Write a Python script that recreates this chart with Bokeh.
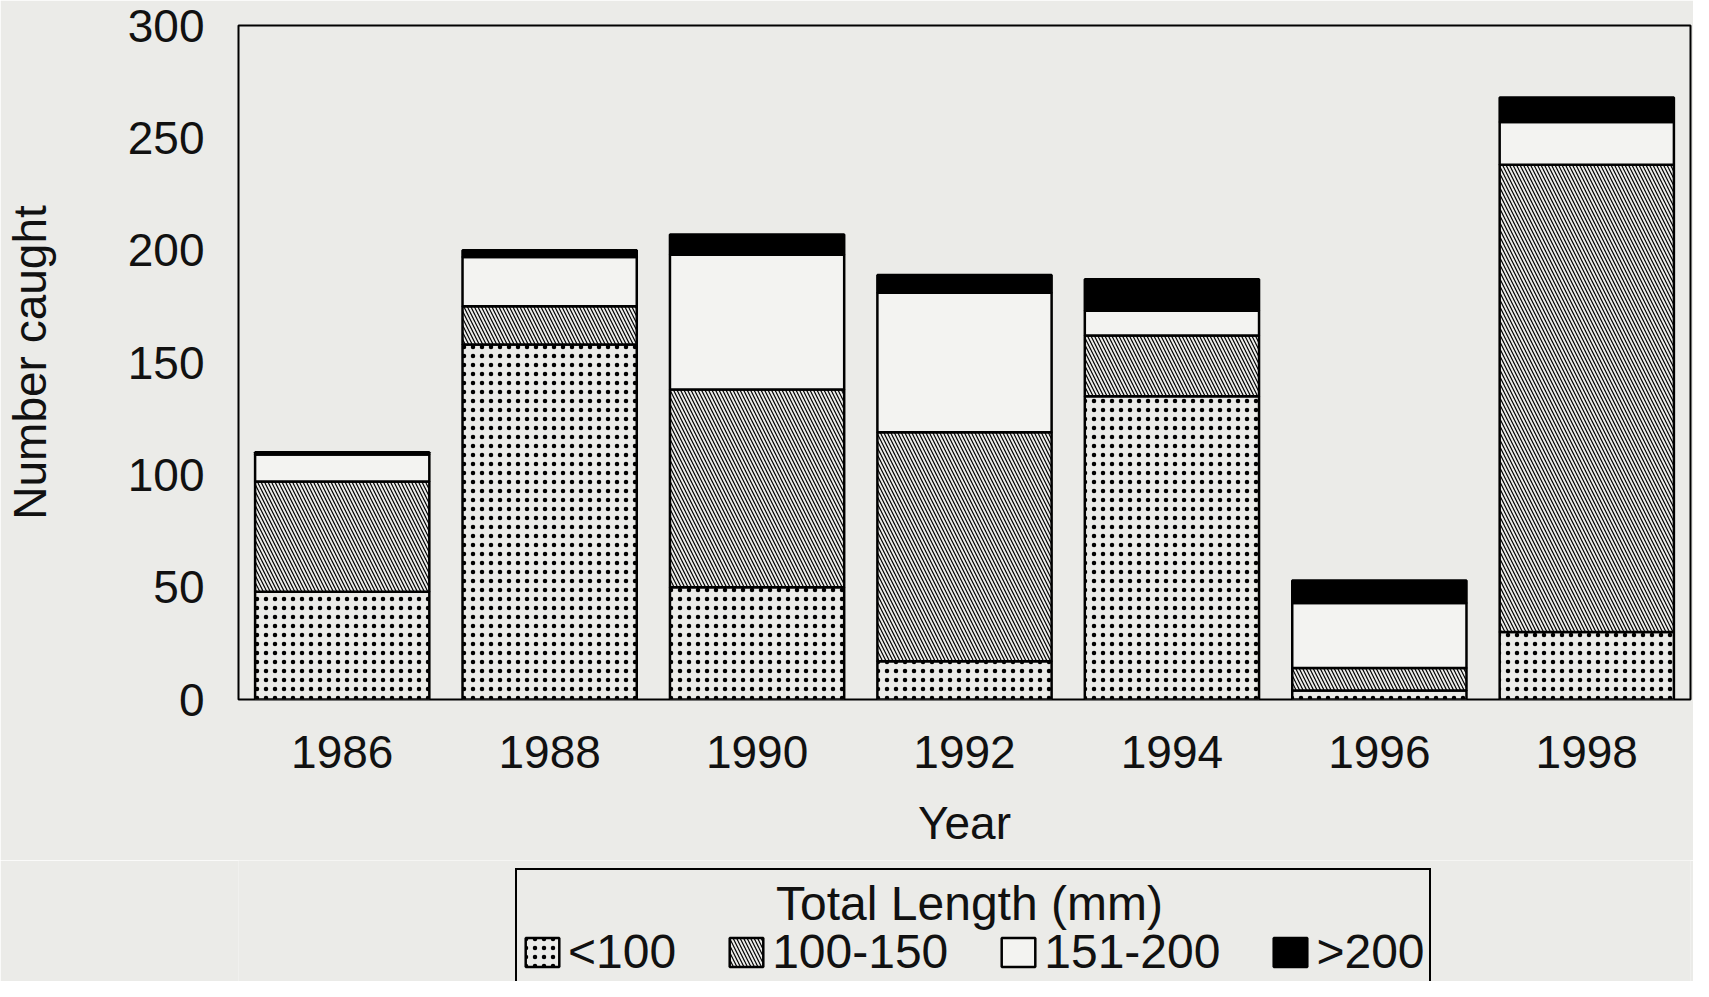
from bokeh.plotting import figure
from bokeh.layouts import column
from bokeh.models import FactorRange, Range1d, FixedTicker, Legend, LegendItem, Label
from bokeh.embed import file_html
from bokeh.resources import INLINE

years = ["1986", "1988", "1990", "1992", "1994", "1996", "1998"]
lt100 = [48, 158, 50, 17, 135, 4, 30]
l100_150 = [49, 17, 88, 102, 27, 10, 208]
l151_200 = [12, 22, 60, 62, 11, 29, 19]
gt200 = [1, 3, 9, 8, 14, 10, 11]
series_labels = ["<100", "100-150", "151-200", ">200"]
legend_title = "Total Length (mm)"
y_ticks = [0, 50, 100, 150, 200, 250, 300]

BG = "#ebebe8"
FONT = "Liberation Sans"
fills = [BG, BG, "#f3f3f1", "black"]
hatches = ["dot", "left_diagonal_line", " ", " "]
hscales = [9, 7, 8, 8]
hweights = [3, 1.2, 1, 1]

data = {"year": years, "a": lt100, "b": l100_150, "c": l151_200, "d": gt200}
stack_kw = dict(x="year", width=0.84, source=data, fill_color=fills, hatch_pattern=hatches,
                hatch_color="black", hatch_scale=hscales, hatch_weight=hweights,
                line_color="black", line_width=2.5)

p = figure(x_range=FactorRange(*years), y_range=Range1d(0, 300),
           width=1693, height=860, output_backend="svg", toolbar_location=None,
           min_border_left=231, min_border_right=3, min_border_top=25, min_border_bottom=161,
           background_fill_color=BG, border_fill_color=BG)

rs = p.vbar_stack(["a", "b", "c", "d"], **stack_kw)

p.xgrid.visible = False
p.ygrid.visible = False
p.outline_line_color = "black"
p.outline_line_width = 2

for ax in (p.xaxis[0], p.yaxis[0]):
    ax.axis_line_color = None
    ax.major_tick_line_color = None
    ax.minor_tick_line_color = None
    ax.major_label_text_font = FONT
    ax.major_label_text_font_size = "46px"
    ax.major_label_text_color = "#111111"
    ax.axis_label_text_font = FONT
    ax.axis_label_text_font_size = "46px"
    ax.axis_label_text_font_style = "normal"
    ax.axis_label_text_color = "#111111"

p.xaxis.axis_label = "Year"
p.xaxis.major_label_standoff = 30
p.xaxis.axis_label_standoff = 26
p.yaxis.axis_label = "Number caught"
p.yaxis.ticker = FixedTicker(ticks=y_ticks)
p.yaxis.major_label_standoff = 28
p.yaxis.axis_label_standoff = 69

# legend strip below the chart: same frame; its bar renderers are hidden, only the legend shows
p2 = figure(x_range=FactorRange(*years), y_range=Range1d(0, 1),
            width=1693, height=121, output_backend="svg", toolbar_location=None,
            min_border_left=231, min_border_right=3, min_border_top=0, min_border_bottom=0,
            background_fill_color=BG, border_fill_color=BG)
p2.axis.visible = False
p2.grid.visible = False
p2.outline_line_color = None

rs2 = p2.vbar_stack(["a", "b", "c", "d"], **stack_kw)
for r in rs2:
    r.visible = False
items = [LegendItem(label=lab, renderers=[r]) for lab, r in zip(series_labels, rs2)]

legend = Legend(items=items, orientation="horizontal", location=(277, -4),
                title="\u00a0", title_text_font=FONT, title_text_font_size="44px", title_standoff=0,
                label_text_font=FONT, label_text_font_size="48px", label_text_color="#111111",
                glyph_width=42, glyph_height=36, label_standoff=5, spacing=49, padding=4, margin=0,
                border_line_color="black", border_line_width=2, border_line_alpha=1.0,
                background_fill_alpha=0.0, inactive_fill_alpha=0.0)
p2.add_layout(legend, "center")
p2.add_layout(Label(x=3.524, y=0.86, text=legend_title, text_align="center", text_baseline="top",
                    text_font=FONT, text_font_size="48px", text_color="#111111"))

layout = column(p, p2, spacing=0)
open("out.html", "w").write(file_html(layout, INLINE))
